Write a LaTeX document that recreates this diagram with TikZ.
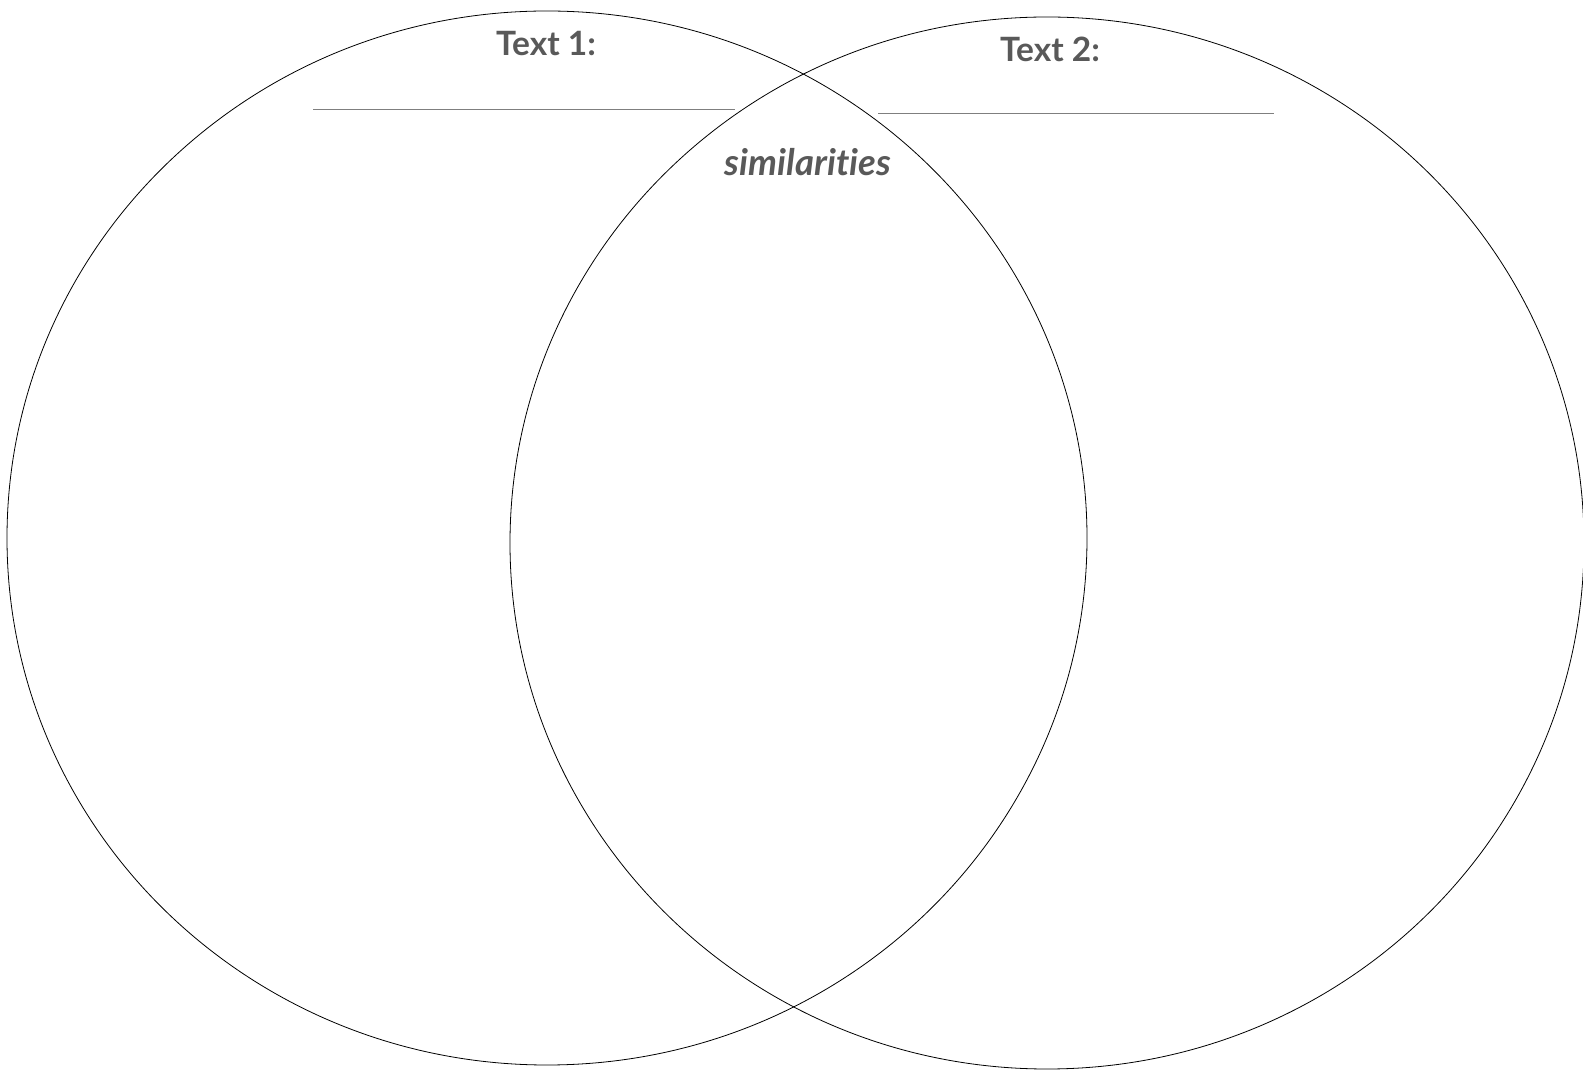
\documentclass[tikz,border=0pt]{standalone}
\usepackage{fontspec}
\setmainfont{Lato}[Ligatures=NoCommon]
\definecolor{txtgray}{HTML}{595959}
\definecolor{linegray}{HTML}{7F7F7F}
\begin{document}
\begin{tikzpicture}[x=1pt,y=1pt,
  venn/.style={draw=black,line width=0.8pt},
  rule/.style={draw=linegray,line width=0.8pt},
  title/.style={text=txtgray,font=\fontsize{33.5}{38}\selectfont\bfseries,inner sep=0pt},
  simlabel/.style={text=txtgray,font=\fontsize{36.5}{42}\selectfont\bfseries\itshape,inner sep=0pt}]
\useasboundingbox (0,0) rectangle (1583,1069);
\draw[venn] (547,531) ellipse [x radius=540,y radius=527];
\draw[venn] (1047,526) ellipse [x radius=537,y radius=526];
\node[title] (t1) at (546,1025) {Text 1:};
\node[title] (t2) at (1050,1020) {Text 2:};
\node[simlabel] (sim) at (808,907) {similarities};
\coordinate (l1a) at (313,960);
\coordinate (l1b) at (735,960);
\coordinate (l2a) at (878,956);
\coordinate (l2b) at (1274,956);
\draw[rule] (l1a) -- (l1b);
\draw[rule] (l2a) -- (l2b);
\end{tikzpicture}
\end{document}
